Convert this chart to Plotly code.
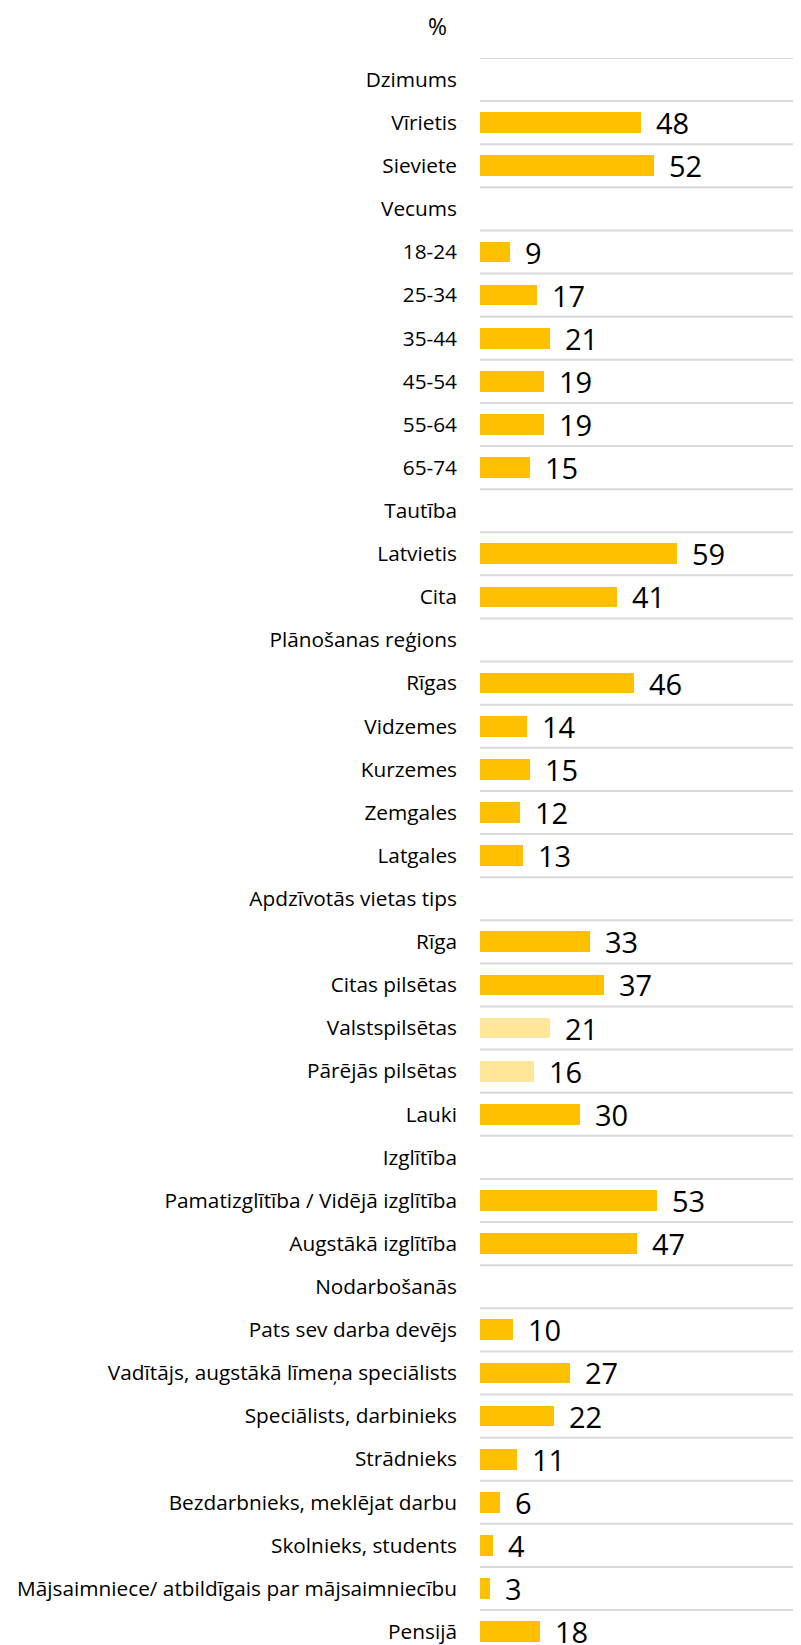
import plotly.graph_objects as go

labels = [
    "Dzimums", "Vīrietis", "Sieviete",
    "Vecums", "18-24", "25-34", "35-44", "45-54", "55-64", "65-74",
    "Tautība", "Latvietis", "Cita",
    "Plānošanas reģions", "Rīgas", "Vidzemes", "Kurzemes", "Zemgales", "Latgales",
    "Apdzīvotās vietas tips", "Rīga", "Citas pilsētas", "Valstspilsētas", "Pārējās pilsētas", "Lauki",
    "Izglītība", "Pamatizglītība / Vidējā izglītība", "Augstākā izglītība",
    "Nodarbošanās", "Pats sev darba devējs", "Vadītājs, augstākā līmeņa speciālists",
    "Speciālists, darbinieks", "Strādnieks", "Bezdarbnieks, meklējat darbu",
    "Skolnieks, students", "Mājsaimniece/ atbildīgais par mājsaimniecību", "Pensijā",
]
values = [
    None, 48, 52,
    None, 9, 17, 21, 19, 19, 15,
    None, 59, 41,
    None, 46, 14, 15, 12, 13,
    None, 33, 37, 21, 16, 30,
    None, 53, 47,
    None, 10, 27, 22, 11, 6, 4, 3, 18,
]
sub_items = {"Valstspilsētas", "Pārējās pilsētas"}

MAIN = "#FFC000"
LIGHT = "#FFE699"
FONT = "Open Sans"

ypos = list(range(len(labels)))
colors = [LIGHT if l in sub_items else MAIN for l in labels]

fig = go.Figure()
fig.add_trace(go.Bar(
    y=ypos, x=values, orientation="h",
    marker=dict(color=colors, line=dict(width=0)),
    width=0.48, hoverinfo="skip",
))

for y, v in zip(ypos, values):
    if v is None:
        continue
    fig.add_annotation(x=v, y=y, text=str(v), showarrow=False,
                       xanchor="left", yanchor="middle", xshift=13,
                       font=dict(family=FONT, size=29, color="#000000"))

shapes = []
for i in range(len(labels)):
    shapes.append(dict(type="line", xref="paper", x0=0, x1=1, yref="y",
                       y0=i - 0.5, y1=i - 0.5,
                       line=dict(color="#D9D9D9", width=2), layer="below"))

fig.add_annotation(xref="paper", yref="paper", x=-0.1324, y=1.0, yshift=32,
                   text="%", showarrow=False, xanchor="center", yanchor="middle",
                   font=dict(family=FONT, size=23, color="#000000"))

fig.update_layout(
    width=793, height=1637,
    margin=dict(l=472, r=0, t=50, b=0),
    paper_bgcolor="white", plot_bgcolor="white",
    showlegend=False, shapes=shapes,
    bargap=0,
    xaxis=dict(range=[0, 96], visible=False, showgrid=False, zeroline=False),
    yaxis=dict(range=[36.31, -0.5], tickmode="array", tickvals=ypos, ticktext=labels,
               showgrid=False, zeroline=False, ticks="", ticklabelstandoff=22,
               automargin=False, ticklabeloverflow="allow",
               tickfont=dict(family=FONT, size=20.8, color="#000000")),
    font=dict(family=FONT),
)

fig.write_html("out.html")
